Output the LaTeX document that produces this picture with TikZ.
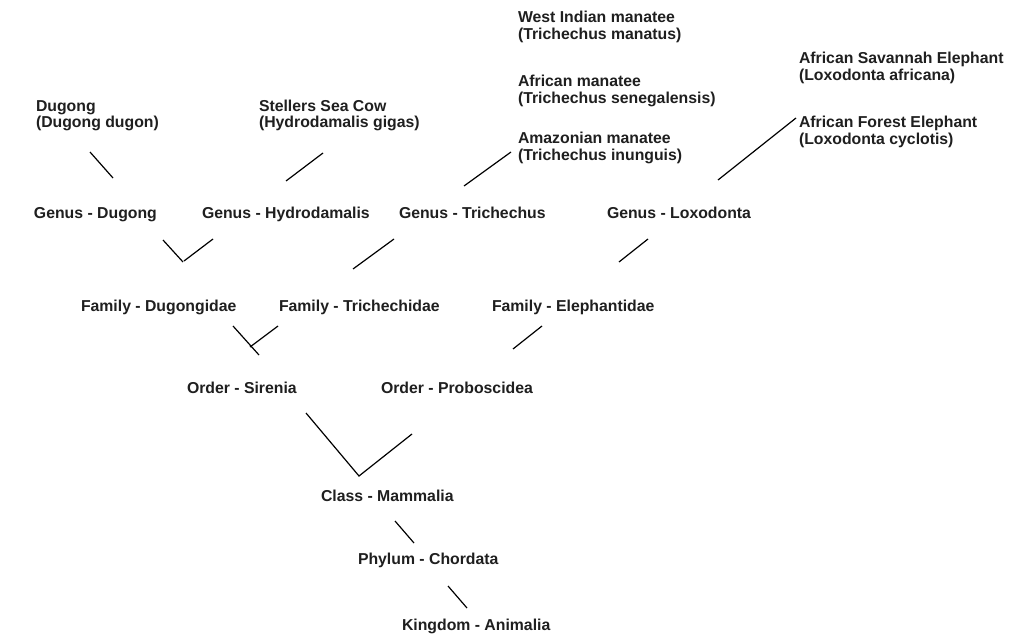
\documentclass[tikz,border=0pt]{standalone}
\usepackage{fontspec}
\setmainfont{Liberation Sans}
\begin{document}
\begin{tikzpicture}[x=1pt,y=-1pt,
  lbl/.style={anchor=base west,inner sep=0pt,outer sep=0pt,align=left,
    font=\fontsize{15.8}{17}\selectfont\bfseries,text=black!88},
  link/.style={draw=black,line width=1.2pt}]
\useasboundingbox[fill=white] (0,0) rectangle (1034,634);
% species (base anchor = baseline of the last line)
\node[lbl] (wim) at (518,40) {West Indian manatee\\(Trichechus manatus)};
\node[lbl] (ase) at (799,81) {African Savannah Elephant\\(Loxodonta africana)};
\node[lbl] (am) at (518,103) {African manatee\\(Trichechus senegalensis)};
\node[lbl] (dug) at (36,128) {Dugong\\(Dugong dugon)};
\node[lbl] (ssc) at (259,128) {Stellers Sea Cow\\(Hydrodamalis gigas)};
\node[lbl] (afe) at (799,144) {African Forest Elephant\\(Loxodonta cyclotis)};
\node[lbl] (amz) at (518,160) {Amazonian manatee\\(Trichechus inunguis)};
% genus
\node[lbl] (gdug) at (34,218) {Genus - Dugong};
\node[lbl] (ghyd) at (202,218) {Genus - Hydrodamalis};
\node[lbl] (gtri) at (399,218) {Genus - Trichechus};
\node[lbl] (glox) at (607,218) {Genus - Loxodonta};
% family
\node[lbl] (fdug) at (81,311) {Family - Dugongidae};
\node[lbl] (ftri) at (279,311) {Family - Trichechidae};
\node[lbl] (fele) at (492,311) {Family - Elephantidae};
% order
\node[lbl] (osir) at (187,393) {Order - Sirenia};
\node[lbl] (opro) at (381,393) {Order - Proboscidea};
% class etc
\node[lbl] (cmam) at (321,501) {Class - Mammalia};
\node[lbl] (pcho) at (358,564) {Phylum - Chordata};
\node[lbl] (kani) at (402,630) {Kingdom - Animalia};
% connector end points
\coordinate (c1a) at (90,152);  \coordinate (c1b) at (113,178);
\coordinate (c2a) at (323,153); \coordinate (c2b) at (286,181);
\coordinate (c3a) at (511,152); \coordinate (c3b) at (464,186);
\coordinate (c4a) at (796,118); \coordinate (c4b) at (718,180);
\coordinate (c5a) at (163,240); \coordinate (c5b) at (183,262);
\coordinate (c6a) at (213,239); \coordinate (c6b) at (184,261);
\coordinate (c7a) at (394,239); \coordinate (c7b) at (353,269);
\coordinate (c8a) at (648,239); \coordinate (c8b) at (619,262);
\coordinate (c9a) at (233,326); \coordinate (c9b) at (259,355);
\coordinate (c10a) at (278,326); \coordinate (c10b) at (250,347);
\coordinate (c11a) at (542,326); \coordinate (c11b) at (513,349);
\coordinate (c12a) at (306,413); \coordinate (c12b) at (359,476);
\coordinate (c13a) at (412,434);
\coordinate (c14a) at (395,521); \coordinate (c14b) at (414,543);
\coordinate (c15a) at (448,586); \coordinate (c15b) at (467,608);
\draw[link] (c1a) -- (c1b);
\draw[link] (c2a) -- (c2b);
\draw[link] (c3a) -- (c3b);
\draw[link] (c4a) -- (c4b);
\draw[link] (c5a) -- (c5b);
\draw[link] (c6a) -- (c6b);
\draw[link] (c7a) -- (c7b);
\draw[link] (c8a) -- (c8b);
\draw[link] (c9a) -- (c9b);
\draw[link] (c10a) -- (c10b);
\draw[link] (c11a) -- (c11b);
\draw[link] (c12a) -- (c12b) -- (c13a);
\draw[link] (c14a) -- (c14b);
\draw[link] (c15a) -- (c15b);
\end{tikzpicture}
\end{document}
